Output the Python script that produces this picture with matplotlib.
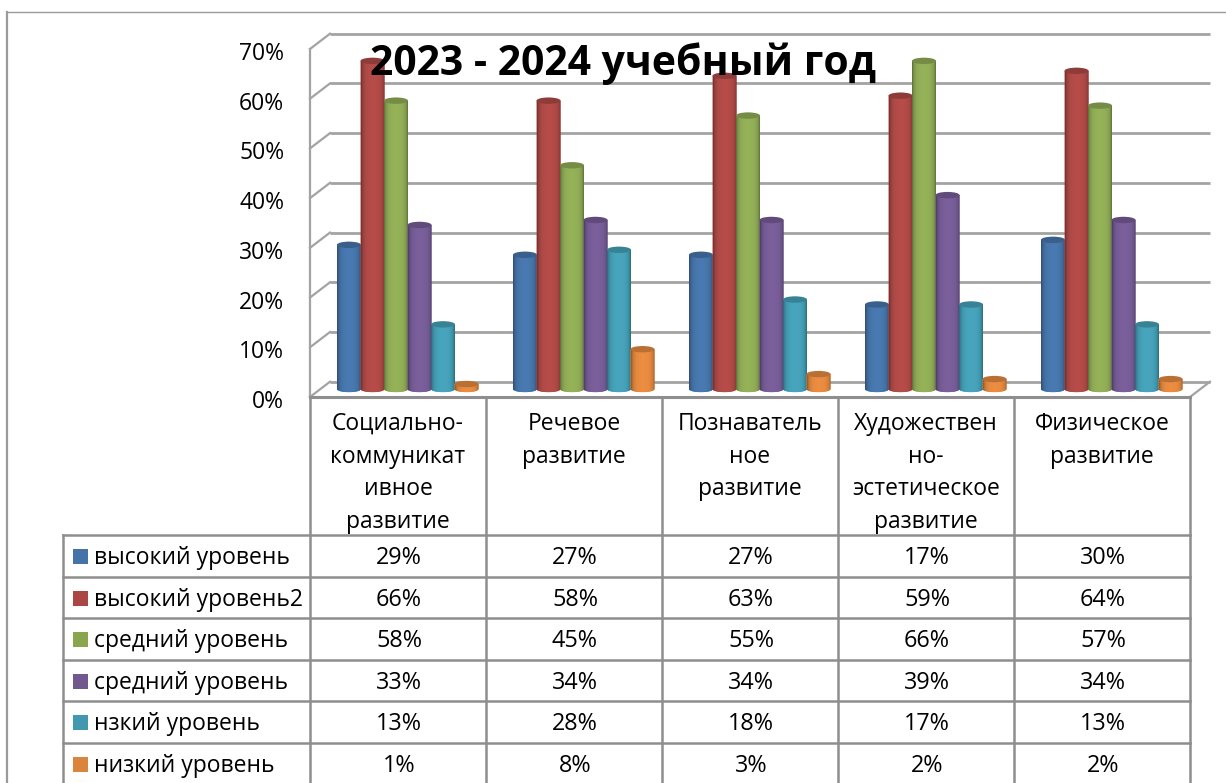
import numpy as np
import matplotlib.pyplot as plt
from matplotlib.path import Path
from matplotlib.patches import PathPatch, Ellipse, Rectangle
from matplotlib.transforms import ScaledTranslation

plt.rcParams['font.family'] = ['Open Sans', 'DejaVu Sans']

# данные
categories = ['Социально-\nкоммуникат\nивное\nразвитие', 'Речевое\nразвитие',
              'Познаватель\nное\nразвитие', 'Художествен\nно-\nэстетическое\nразвитие',
              'Физическое\nразвитие']
series_names = ['высокий уровень', 'высокий уровень2', 'средний уровень',
                'средний уровень', 'нзкий уровень', 'низкий уровень']
high1 = [29, 27, 27, 17, 30]
high2 = [66, 58, 63, 59, 64]
mid1 = [58, 45, 55, 66, 57]
mid2 = [33, 34, 34, 39, 34]
low1 = [13, 28, 18, 17, 13]
low2 = [1, 8, 3, 2, 2]
series = [high1, high2, mid1, mid2, low1, low2]
legend_colors = ['#4572A7', '#AA4643', '#89A54E', '#71588F', '#4198AF', '#DB843D']
bar_colors = ['#4777AD', '#B24B48', '#92AF57', '#785E99', '#45A2BA', '#E88B40']
y_ticks = [0, 10, 20, 30, 40, 50, 60, 70]
title = '2023 - 2024 учебный год'

W, H = 1226, 783
GRID = '#a3a3a3'
LINE = '#8e8e8e'

fig = plt.figure(figsize=(W / 100, H / 100), dpi=100)

# основная область: передняя грань диаграммы
ax = fig.add_axes([310 / W, 1 - 397 / H, 880 / W, 348 / H])
px_y = 70 / 348  # процентов в одном пикселе
px_x = 5 / 880
lift = 8 * px_y
ry = 3.2 * px_y
back_x = 20 * px_x
back_y = 15.3 * px_y
step = 23.5 * px_x
first = 27 * px_x
bw = 24 * px_x

# стенки и сетка
for v in y_ticks:
    ax.plot([0, back_x], [v, v + back_y], color=GRID, lw=1.6, clip_on=False, zorder=1)
    ax.plot([back_x, 5 + back_x], [v + back_y, v + back_y], color=GRID, lw=2,
            clip_on=False, zorder=1, solid_capstyle='butt')
ax.plot([5, 5 + back_x], [0, back_y], color=GRID, lw=1.6, clip_on=False, zorder=1)


def shade(color, n=40):
    rgb = np.array(plt.matplotlib.colors.to_rgb(color))
    t = np.linspace(0, 1, n)
    f = 0.97 + 0.05 * np.sin(np.pi * t) - 0.32 * np.exp(-t / 0.09) - 0.30 * np.exp(-(1 - t) / 0.08)
    return np.clip(rgb[None, None, :] * f[None, :, None], 0, 1)


for s, values in enumerate(series):
    for i, v in enumerate(values):
        x0 = i + first + s * step
        x1 = x0 + bw
        cx = (x0 + x1) / 2
        base = lift
        top = lift + v
        ang = np.linspace(np.pi, 2 * np.pi, 24)
        arc = np.column_stack([cx + bw / 2 * np.cos(ang), base + ry * np.sin(ang)])
        verts = np.vstack([[[x0, top]], arc, [[x1, top]], [[x0, top]]])
        codes = [Path.MOVETO] + [Path.LINETO] * (len(verts) - 2) + [Path.CLOSEPOLY]
        outline = PathPatch(Path(verts, codes), facecolor=bar_colors[s], edgecolor='none',
                            zorder=3 + s * 0.1 + 0.01, clip_on=False)
        ax.add_patch(outline)
        im = ax.imshow(shade(bar_colors[s]), extent=[x0, x1, base - ry, top], aspect='auto',
                       interpolation='bilinear', zorder=3 + s * 0.1 + 0.02)
        im.set_clip_path(outline)
        cap = Ellipse((cx, top), bw, 2 * ry, zorder=3 + s * 0.1 + 0.03, clip_on=False,
                      facecolor=np.array(plt.matplotlib.colors.to_rgb(bar_colors[s])) * 0.8,
                      edgecolor='none')
        ax.add_patch(cap)

ax.set_xlim(0, 5)
ax.set_ylim(0, 70)
ax.set_xticks([])
ax.set_yticks(y_ticks)
ax.set_yticklabels([f'{v}%' for v in y_ticks], fontsize=16.5)
ax.tick_params(axis='y', length=0, pad=18.5)
for lab in ax.get_yticklabels():
    lab.set_transform(lab.get_transform() + ScaledTranslation(0, -2 / 100, fig.dpi_scale_trans))
ax.patch.set_alpha(0)
for side in ['top', 'right']:
    ax.spines[side].set_visible(False)
ax.spines['left'].set_color(GRID)
ax.spines['left'].set_linewidth(1.6)
ax.spines['bottom'].set_color(LINE)
ax.spines['bottom'].set_linewidth(2.2)

# таблица данных и рамка, в пикселях картинки
ov = fig.add_axes([0, 0, 1, 1], zorder=5)
ov.set_xlim(0, W)
ov.set_ylim(H, 0)
ov.axis('off')

ov.plot([7, 7], [12, H], color='#9a9a9a', lw=1.6)
ov.plot([7, W], [12, 12], color='#9a9a9a', lw=1)

col_x = [310 + 176 * i for i in range(6)]
row_y = [535 + 41.6 * i for i in range(6)]
for x in col_x:
    ov.plot([x, x], [397, H], color=LINE, lw=1.8)
ov.plot([63, 63], [535, H], color=LINE, lw=1.8)
for y in row_y:
    ov.plot([63, col_x[-1]], [y, y], color=LINE, lw=1.8)

for i, label in enumerate(categories):
    for k, part in enumerate(label.split('\n')):
        ov.text(col_x[i] + 88, 424 + 32.7 * k, part, ha='center', va='center', fontsize=16.5)

for s, values in enumerate(series):
    yc = row_y[s] + 22
    ov.add_patch(Rectangle((73, yc - 8), 15, 15, facecolor=legend_colors[s], edgecolor='none'))
    ov.text(94, yc + 1, series_names[s], ha='left', va='center', fontsize=16.5)
    for i, v in enumerate(values):
        ov.text(col_x[i] + 89, yc + 1, f'{v}%', ha='center', va='center', fontsize=16.8)

ov.text(623, 64, title, ha='center', va='center', fontsize=29.4, fontweight='bold', color='black')

fig.savefig('out.png', dpi=100)
